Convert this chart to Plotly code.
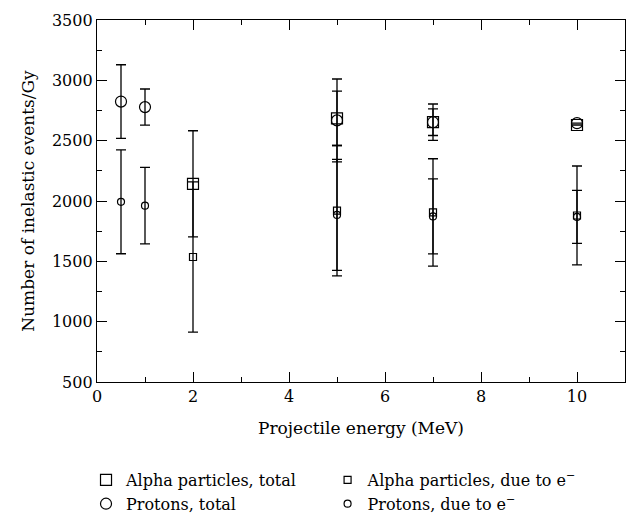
import plotly.graph_objects as go

energy_alpha = [2, 5, 7, 10]
alpha_total = [2142, 2685, 2653, 2630]
alpha_total_err = [440, 225, 110, None]
alpha_e = [1536, 1920, 1905, 1880]
alpha_e_err = [622, 540, 445, 410]

energy_proton = [0.5, 1, 5, 7, 10]
proton_total = [2824, 2778, 2668, 2653, 2645]
proton_total_err = [305, 150, 343, 151, None]
proton_e = [1993, 1961, 1885, 1872, 1868]
proton_e_err = [430, 317, 460, 311, 220]

FONT = "DejaVu Serif"
BIG, SMALL = 11, 7


def series(x, y, err, name, symbol, size, legend):
    return go.Scatter(
        x=x, y=y, mode="markers", name=name, legend=legend,
        marker=dict(symbol=symbol, size=size, color="black",
                    line=dict(color="black", width=1.2)),
        error_y=dict(type="data", array=err, visible=True, color="black",
                     thickness=1.3, width=5),
    )


fig = go.Figure()
fig.add_trace(series(energy_alpha, alpha_total, alpha_total_err,
                     "Alpha particles, total", "square-open", BIG, "legend"))
fig.add_trace(series(energy_proton, proton_total, proton_total_err,
                     "Protons, total", "circle-open", BIG, "legend"))
fig.add_trace(series(energy_alpha, alpha_e, alpha_e_err,
                     "Alpha particles, due to e<sup>−</sup>", "square-open", SMALL, "legend2"))
fig.add_trace(series(energy_proton, proton_e, proton_e_err,
                     "Protons, due to e<sup>−</sup>", "circle-open", SMALL, "legend2"))

axis_common = dict(
    showgrid=False, zeroline=False, showline=True, linecolor="black",
    linewidth=1.3, mirror="allticks", ticks="inside", ticklen=10,
    tickwidth=1.3, tickcolor="black",
    tickfont=dict(family=FONT, size=16, color="black"),
)

legend_common = dict(
    orientation="v", xanchor="left", yref="container", y=0.1147, yanchor="top",
    itemsizing="trace", font=dict(family=FONT, size=16, color="black"),
    bgcolor="rgba(0,0,0,0)", tracegroupgap=0, traceorder="normal",
)

fig.update_layout(
    width=637, height=523,
    margin=dict(l=97, r=11, t=12, b=141),
    paper_bgcolor="white", plot_bgcolor="white",
    font=dict(family=FONT, size=16, color="black"),
    xaxis=dict(range=[0, 11], tickmode="linear", tick0=0, dtick=2,
               minor=dict(ticks="inside", ticklen=5, dtick=1, tickcolor="black", tickwidth=1.3),
               title=dict(text="Projectile energy (MeV)", font=dict(family=FONT, size=17), standoff=16),
               **axis_common),
    yaxis=dict(range=[500, 3500], tickmode="linear", tick0=500, dtick=500,
               minor=dict(ticks="inside", ticklen=5, dtick=250, tickcolor="black", tickwidth=1.3),
               title=dict(text="Number of inelastic events/Gy", font=dict(family=FONT, size=17), standoff=12),
               **axis_common),
    showlegend=True,
    legend=dict(x=-0.0208, **legend_common),
    legend2=dict(x=0.4367, **legend_common),
)

fig.write_html("out.html")
